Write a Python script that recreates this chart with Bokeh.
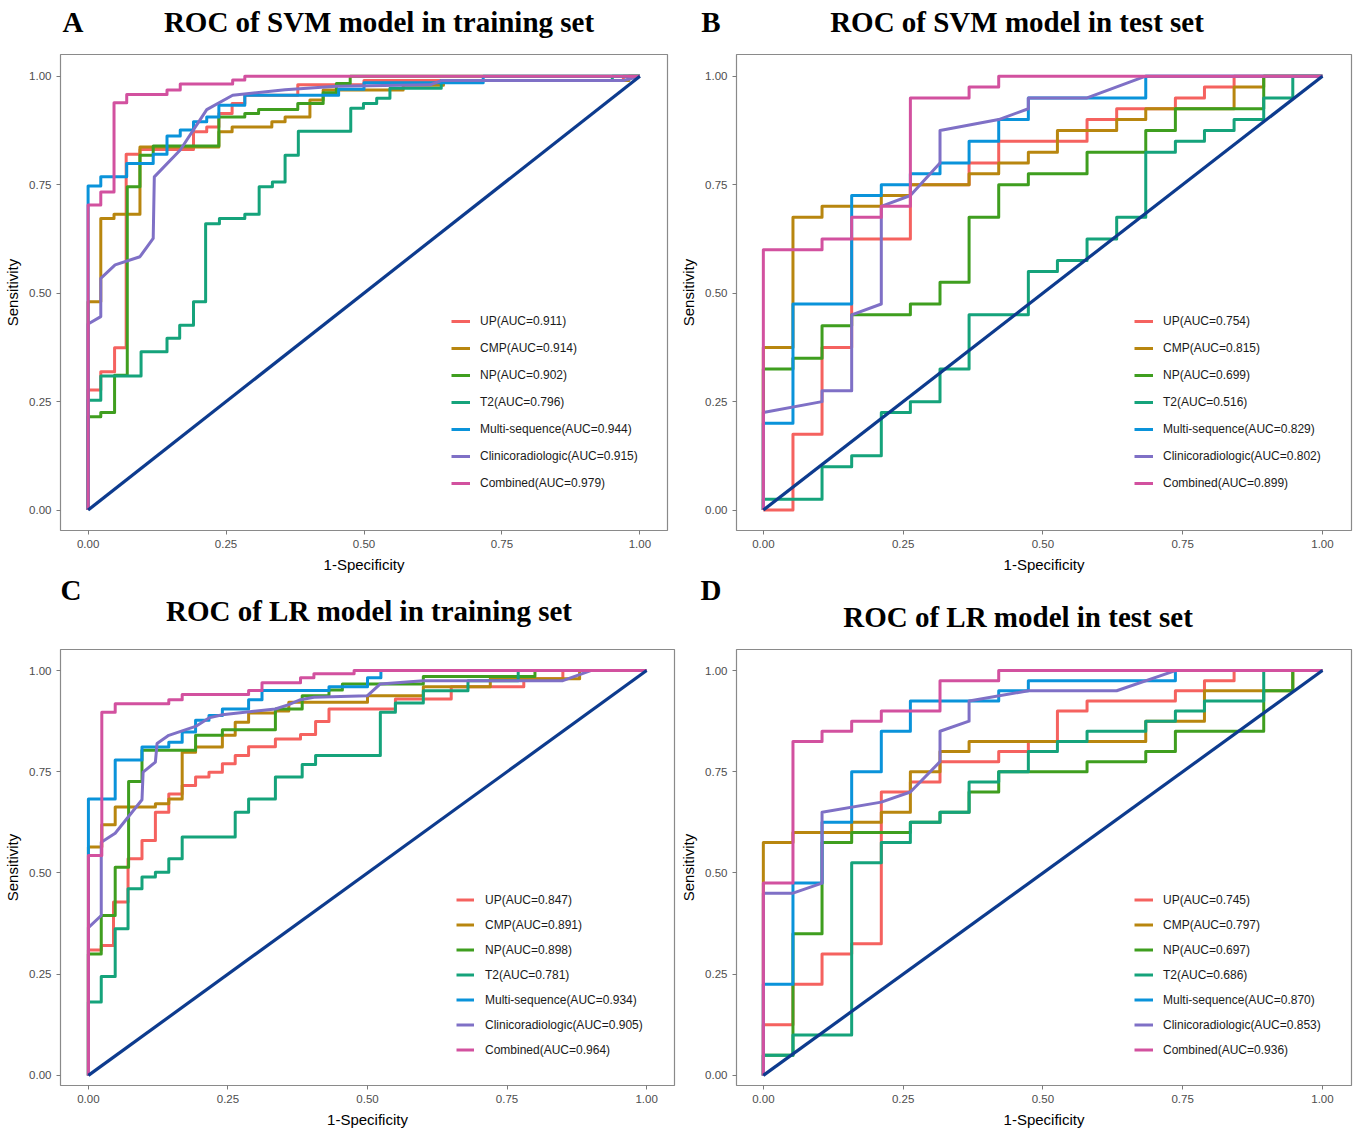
from bokeh.plotting import figure
from bokeh.models import Range1d, FixedTicker, PrintfTickFormatter, Legend, LegendItem, Div
from bokeh.layouts import column, row
from bokeh.embed import file_html
from bokeh.resources import INLINE

# ---------------- data ----------------
SERIES = ["UP", "CMP", "NP", "T2", "Multi-sequence", "Clinicoradiologic", "Combined"]
COLORS = ["#F5625F", "#B8860F", "#3F9E1F", "#15A37B", "#0A93DA", "#7F70C6", "#D2519F"]
DIAG_COLOR = "#0D3B8E"
TICKS = [0.0, 0.25, 0.5, 0.75, 1.0]

PANEL_LETTERS = ["A", "B", "C", "D"]
PANEL_TITLES = ["ROC of SVM model in training set", "ROC of SVM model in test set",
                "ROC of LR model in training set", "ROC of LR model in test set"]

AUC_A = [0.911, 0.914, 0.902, 0.796, 0.944, 0.915, 0.979]
AUC_B = [0.754, 0.815, 0.699, 0.516, 0.829, 0.802, 0.899]
AUC_C = [0.847, 0.891, 0.898, 0.781, 0.934, 0.905, 0.964]
AUC_D = [0.745, 0.797, 0.697, 0.686, 0.870, 0.853, 0.936]

# ROC points (1-specificity, sensitivity)
A_UP = [(0,0),(0,0.277),(0.023,0.277),(0.023,0.319),(0.048,0.319),(0.048,0.374),(0.069,0.374),(0.069,0.82),
        (0.094,0.82),(0.094,0.831),(0.191,0.831),(0.191,0.872),(0.215,0.872),(0.215,0.883),(0.237,0.883),
        (0.237,0.914),(0.261,0.914),(0.261,0.937),(0.284,0.937),(0.284,0.956),(0.38,0.956),(0.38,0.98),
        (0.50,0.98),(0.50,0.99),(0.97,0.99),(0.97,1.0),(1,1)]
A_CMP = [(0,0),(0,0.48),(0.023,0.48),(0.023,0.672),(0.047,0.672),(0.047,0.682),(0.094,0.682),(0.094,0.837),
         (0.237,0.837),(0.237,0.872),(0.261,0.872),(0.261,0.883),(0.333,0.883),(0.333,0.895),(0.357,0.895),
         (0.357,0.906),(0.402,0.906),(0.402,0.945),(0.426,0.945),(0.426,0.968),(0.571,0.968),(0.571,0.979),
         (0.644,0.979),(0.644,0.99),(0.98,0.99),(0.98,1.0),(1,1)]
A_NP = [(0,0),(0,0.215),(0.023,0.215),(0.023,0.225),(0.048,0.225),(0.048,0.311),(0.071,0.311),(0.071,0.745),
        (0.094,0.745),(0.094,0.818),(0.118,0.818),(0.118,0.839),(0.237,0.839),(0.237,0.906),(0.284,0.906),
        (0.284,0.914),(0.309,0.914),(0.309,0.923),(0.38,0.923),(0.38,0.937),(0.426,0.937),(0.426,0.962),
        (0.45,0.962),(0.45,0.983),(0.475,0.983),(0.475,1.0),(1,1)]
A_T2 = [(0,0),(0,0.253),(0.023,0.253),(0.023,0.309),(0.096,0.309),(0.096,0.365),(0.143,0.365),(0.143,0.396),
        (0.166,0.396),(0.166,0.426),(0.191,0.426),(0.191,0.48),(0.213,0.48),(0.213,0.66),(0.238,0.66),
        (0.238,0.672),(0.284,0.672),(0.284,0.682),(0.31,0.682),(0.31,0.745),(0.334,0.745),(0.334,0.756),
        (0.357,0.756),(0.357,0.818),(0.381,0.818),(0.381,0.873),(0.476,0.873),(0.476,0.926),(0.499,0.926),
        (0.499,0.937),(0.523,0.937),(0.523,0.949),(0.547,0.949),(0.547,0.972),(0.64,0.972),(0.64,0.99),
        (0.95,0.99),(0.95,1.0),(1,1)]
A_MULTI = [(0,0),(0,0.747),(0.023,0.747),(0.023,0.768),(0.07,0.768),(0.07,0.799),(0.118,0.799),(0.118,0.82),
           (0.143,0.82),(0.143,0.862),(0.167,0.862),(0.167,0.876),(0.191,0.876),(0.191,0.895),(0.215,0.895),
           (0.215,0.906),(0.237,0.906),(0.237,0.933),(0.284,0.933),(0.284,0.956),(0.454,0.956),(0.454,0.97),
           (0.50,0.97),(0.50,0.985),(0.716,0.985),(0.716,1.0),(1,1)]
A_CLIN = [(0,0),(0,0.429),(0.023,0.446),(0.023,0.534),(0.049,0.565),(0.094,0.584),(0.118,0.626),(0.12,0.768),
          (0.167,0.83),(0.215,0.923),(0.262,0.956),(0.357,0.969),(0.45,0.977),(0.62,0.98),(0.64,0.99),
          (0.97,0.99),(1,1)]
A_COMB = [(0,0),(0,0.703),(0.023,0.703),(0.023,0.733),(0.047,0.733),(0.047,0.939),(0.07,0.939),(0.07,0.958),
          (0.143,0.958),(0.143,0.968),(0.167,0.968),(0.167,0.982),(0.262,0.982),(0.262,0.991),(0.284,0.991),
          (0.284,1.0),(1,1)]

B_UP = [(0,0),(0.053,0),(0.053,0.175),(0.105,0.175),(0.105,0.375),(0.158,0.375),(0.158,0.625),(0.263,0.625),
        (0.263,0.75),(0.368,0.75),(0.368,0.80),(0.421,0.80),(0.421,0.85),(0.579,0.85),(0.579,0.90),(0.632,0.90),
        (0.632,0.925),(0.737,0.925),(0.737,0.95),(0.789,0.95),(0.789,0.975),(0.842,0.975),(0.842,1.0),(1,1)]
B_CMP = [(0,0),(0,0.375),(0.053,0.375),(0.053,0.675),(0.105,0.675),(0.105,0.70),(0.211,0.70),(0.211,0.725),
         (0.263,0.725),(0.263,0.75),(0.368,0.75),(0.368,0.775),(0.421,0.775),(0.421,0.80),(0.474,0.80),
         (0.474,0.825),(0.526,0.825),(0.526,0.875),(0.632,0.875),(0.632,0.90),(0.684,0.90),(0.684,0.925),
         (0.842,0.925),(0.842,0.975),(0.895,0.975),(0.895,1.0),(1,1)]
B_NP = [(0,0),(0,0.325),(0.053,0.325),(0.053,0.35),(0.105,0.35),(0.105,0.425),(0.158,0.425),(0.158,0.45),
        (0.263,0.45),(0.263,0.475),(0.316,0.475),(0.316,0.525),(0.368,0.525),(0.368,0.675),(0.421,0.675),
        (0.421,0.75),(0.474,0.75),(0.474,0.775),(0.579,0.775),(0.579,0.825),(0.684,0.825),(0.684,0.875),
        (0.737,0.875),(0.737,0.925),(0.895,0.925),(0.895,1.0),(1,1)]
B_T2 = [(0,0),(0,0.025),(0.105,0.025),(0.105,0.10),(0.158,0.10),(0.158,0.125),(0.211,0.125),(0.211,0.225),
        (0.263,0.225),(0.263,0.25),(0.316,0.25),(0.316,0.325),(0.368,0.325),(0.368,0.45),(0.474,0.45),
        (0.474,0.55),(0.526,0.55),(0.526,0.575),(0.579,0.575),(0.579,0.625),(0.632,0.625),(0.632,0.675),
        (0.684,0.675),(0.684,0.825),(0.737,0.825),(0.737,0.85),(0.789,0.85),(0.789,0.875),(0.842,0.875),
        (0.842,0.90),(0.895,0.90),(0.895,0.95),(0.947,0.95),(0.947,1.0),(1,1)]
B_MULTI = [(0,0),(0,0.20),(0.053,0.20),(0.053,0.475),(0.158,0.475),(0.158,0.725),(0.211,0.725),(0.211,0.75),
           (0.263,0.75),(0.263,0.775),(0.316,0.775),(0.316,0.80),(0.368,0.80),(0.368,0.85),(0.421,0.85),
           (0.421,0.90),(0.474,0.90),(0.474,0.95),(0.684,0.95),(0.684,1.0),(1,1)]
B_CLIN = [(0,0),(0,0.225),(0.105,0.25),(0.105,0.275),(0.158,0.275),(0.158,0.45),(0.211,0.475),(0.211,0.70),
          (0.263,0.725),(0.316,0.80),(0.316,0.875),(0.421,0.90),(0.474,0.925),(0.474,0.95),(0.579,0.95),
          (0.684,1.0),(1,1)]
B_COMB = [(0,0),(0,0.60),(0.105,0.60),(0.105,0.625),(0.158,0.625),(0.158,0.675),(0.211,0.675),(0.211,0.70),
          (0.263,0.70),(0.263,0.95),(0.368,0.95),(0.368,0.975),(0.421,0.975),(0.421,1.0),(1,1)]

C_UP = [(0,0),(0,0.31),(0.023,0.31),(0.023,0.321),(0.045,0.321),(0.045,0.428),(0.071,0.428),(0.071,0.535),
        (0.096,0.535),(0.096,0.58),(0.12,0.58),(0.12,0.65),(0.144,0.65),(0.144,0.695),(0.168,0.695),
        (0.168,0.716),(0.192,0.716),(0.192,0.737),(0.216,0.737),(0.216,0.749),(0.24,0.749),(0.24,0.77),
        (0.263,0.77),(0.263,0.79),(0.287,0.79),(0.287,0.812),(0.335,0.812),(0.335,0.831),(0.38,0.831),
        (0.38,0.842),(0.407,0.842),(0.407,0.874),(0.431,0.874),(0.431,0.905),(0.55,0.905),(0.55,0.93),
        (0.65,0.93),(0.65,0.96),(0.78,0.96),(0.78,0.98),(0.85,0.98),(0.85,1.0),(1,1)]
C_CMP = [(0,0),(0,0.564),(0.024,0.564),(0.024,0.619),(0.048,0.619),(0.048,0.663),(0.12,0.663),(0.12,0.671),
         (0.144,0.671),(0.144,0.683),(0.168,0.683),(0.168,0.798),(0.192,0.798),(0.192,0.811),(0.24,0.811),
         (0.24,0.84),(0.263,0.84),(0.263,0.872),(0.287,0.872),(0.287,0.895),(0.335,0.895),(0.335,0.90),
         (0.359,0.90),(0.359,0.922),(0.50,0.922),(0.50,0.938),(0.60,0.938),(0.60,0.96),(0.72,0.96),
         (0.72,0.98),(0.88,0.98),(0.88,1.0),(1,1)]
C_NP = [(0,0),(0,0.30),(0.023,0.30),(0.023,0.395),(0.048,0.395),(0.048,0.514),(0.072,0.514),(0.072,0.726),
        (0.096,0.726),(0.096,0.803),(0.192,0.803),(0.192,0.84),(0.24,0.84),(0.24,0.854),(0.335,0.854),
        (0.335,0.905),(0.383,0.905),(0.383,0.938),(0.431,0.938),(0.431,0.952),(0.455,0.952),(0.455,0.967),
        (0.60,0.967),(0.60,0.985),(0.80,0.985),(0.80,1.0),(1,1)]
C_T2 = [(0,0),(0,0.181),(0.023,0.181),(0.023,0.244),(0.048,0.244),(0.048,0.362),(0.071,0.362),(0.071,0.461),
        (0.096,0.461),(0.096,0.49),(0.12,0.49),(0.12,0.502),(0.144,0.502),(0.144,0.535),(0.168,0.535),
        (0.168,0.589),(0.263,0.589),(0.263,0.65),(0.287,0.65),(0.287,0.683),(0.335,0.683),(0.335,0.737),
        (0.383,0.737),(0.383,0.768),(0.407,0.768),(0.407,0.79),(0.523,0.79),(0.523,0.897),(0.55,0.897),
        (0.55,0.92),(0.60,0.92),(0.60,0.95),(0.68,0.95),(0.68,0.975),(0.77,0.975),(0.77,1.0),(1,1)]
C_MULTI = [(0,0),(0,0.683),(0.048,0.683),(0.048,0.779),(0.096,0.779),(0.096,0.811),(0.144,0.811),(0.144,0.823),
           (0.168,0.823),(0.168,0.848),(0.192,0.848),(0.192,0.877),(0.216,0.877),(0.216,0.889),(0.24,0.889),
           (0.24,0.905),(0.287,0.905),(0.287,0.928),(0.311,0.928),(0.311,0.951),(0.431,0.951),(0.431,0.96),
           (0.50,0.96),(0.50,0.982),(0.524,0.982),(0.524,1.0),(1,1)]
C_CLIN = [(0,0),(0,0.365),(0.023,0.395),(0.023,0.576),(0.048,0.598),(0.096,0.681),(0.098,0.749),(0.12,0.774),
          (0.123,0.82),(0.144,0.84),(0.192,0.862),(0.216,0.883),(0.24,0.891),(0.335,0.905),(0.359,0.916),
          (0.38,0.928),(0.404,0.934),(0.50,0.938),(0.523,0.967),(0.60,0.975),(0.85,0.975),(0.90,1.0),(1,1)]
C_COMB = [(0,0),(0,0.543),(0.024,0.543),(0.024,0.897),(0.048,0.897),(0.048,0.918),(0.144,0.918),(0.144,0.928),
          (0.168,0.928),(0.168,0.941),(0.287,0.941),(0.287,0.951),(0.311,0.951),(0.311,0.97),(0.38,0.97),
          (0.38,0.982),(0.404,0.982),(0.404,0.992),(0.476,0.992),(0.476,1.0),(1,1)]

D_UP = [(0,0),(0,0.125),(0.053,0.125),(0.053,0.225),(0.105,0.225),(0.105,0.30),(0.158,0.30),(0.158,0.325),
        (0.211,0.325),(0.211,0.70),(0.263,0.70),(0.263,0.725),(0.316,0.725),(0.316,0.775),(0.421,0.775),
        (0.421,0.80),(0.474,0.80),(0.474,0.825),(0.526,0.825),(0.526,0.90),(0.579,0.90),(0.579,0.925),
        (0.737,0.925),(0.737,0.95),(0.789,0.95),(0.789,0.975),(0.842,0.975),(0.842,1.0),(1,1)]
D_CMP = [(0,0),(0,0.575),(0.053,0.575),(0.053,0.60),(0.158,0.60),(0.158,0.625),(0.211,0.625),(0.211,0.65),
         (0.263,0.65),(0.263,0.75),(0.316,0.75),(0.316,0.80),(0.368,0.80),(0.368,0.825),(0.684,0.825),
         (0.684,0.875),(0.789,0.875),(0.789,0.95),(0.947,0.95),(0.947,1.0),(1,1)]
D_NP = [(0,0),(0,0.05),(0.053,0.05),(0.053,0.35),(0.105,0.35),(0.105,0.575),(0.158,0.575),(0.158,0.60),
        (0.263,0.60),(0.263,0.625),(0.316,0.625),(0.316,0.65),(0.368,0.65),(0.368,0.70),(0.421,0.70),
        (0.421,0.75),(0.579,0.75),(0.579,0.775),(0.684,0.775),(0.684,0.80),(0.737,0.80),(0.737,0.85),
        (0.895,0.85),(0.895,0.95),(0.947,0.95),(0.947,1.0),(1,1)]
D_T2 = [(0,0),(0,0.05),(0.053,0.05),(0.053,0.10),(0.158,0.10),(0.158,0.525),(0.211,0.525),(0.211,0.575),
        (0.263,0.575),(0.263,0.625),(0.316,0.625),(0.316,0.65),(0.368,0.65),(0.368,0.725),(0.421,0.725),
        (0.421,0.75),(0.474,0.75),(0.474,0.80),(0.526,0.80),(0.526,0.825),(0.579,0.825),(0.579,0.85),
        (0.684,0.85),(0.684,0.875),(0.737,0.875),(0.737,0.90),(0.789,0.90),(0.789,0.925),(0.895,0.925),
        (0.895,1.0),(1,1)]
D_MULTI = [(0,0),(0,0.225),(0.053,0.225),(0.053,0.475),(0.105,0.475),(0.105,0.625),(0.158,0.625),(0.158,0.75),
           (0.211,0.75),(0.211,0.85),(0.263,0.85),(0.263,0.925),(0.421,0.925),(0.421,0.95),(0.474,0.95),
           (0.474,0.975),(0.737,0.975),(0.737,1.0),(1,1)]
D_CLIN = [(0,0),(0,0.45),(0.053,0.45),(0.105,0.475),(0.105,0.65),(0.211,0.675),(0.263,0.70),(0.316,0.775),
          (0.316,0.85),(0.368,0.875),(0.368,0.925),(0.474,0.95),(0.632,0.95),(0.737,1.0),(1,1)]
D_COMB = [(0,0),(0,0.475),(0.053,0.475),(0.053,0.825),(0.105,0.825),(0.105,0.85),(0.158,0.85),(0.158,0.875),
          (0.211,0.875),(0.211,0.90),(0.316,0.90),(0.316,0.975),(0.421,0.975),(0.421,1.0),(1,1)]

CURVES_A = [A_UP, A_CMP, A_NP, A_T2, A_MULTI, A_CLIN, A_COMB]
CURVES_B = [B_UP, B_CMP, B_NP, B_T2, B_MULTI, B_CLIN, B_COMB]
CURVES_C = [C_UP, C_CMP, C_NP, C_T2, C_MULTI, C_CLIN, C_COMB]
CURVES_D = [D_UP, D_CMP, D_NP, D_T2, D_MULTI, D_CLIN, D_COMB]


def make_header(width, height, texts):
    spans = []
    for txt, (cx, cy) in texts:
        spans.append(
            '<span style="position:absolute;left:%dpx;top:%dpx;transform:translate(-50%%,-50%%);'
            'white-space:nowrap;line-height:29px;">%s</span>' % (cx, cy, txt))
    html = ('<div style="position:relative;width:%dpx;height:%dpx;overflow:visible;'
            'font-family:\'Liberation Serif\',serif;font-weight:bold;font-size:29px;color:#000;">%s</div>'
            % (width, height, "".join(spans)))
    return Div(text=html, width=width, height=height, margin=0)


def make_panel(curves, aucs, width, height, borders, xr, yr, legend_xy, item_h, item_sp,
               glyph_w, label_sd):
    bl, br, bt, bb = borders
    p = figure(width=width, height=height, x_range=Range1d(*xr), y_range=Range1d(*yr),
               output_backend="svg", toolbar_location=None, title=None,
               min_border_left=bl, min_border_right=br, min_border_top=bt, min_border_bottom=bb,
               x_axis_label="1-Specificity", y_axis_label="Sensitivity")
    p.xgrid.visible = False
    p.ygrid.visible = False
    p.outline_line_color = "#8a8a8a"
    p.outline_line_width = 1.2
    p.background_fill_color = "white"
    p.border_fill_color = "white"
    for ax in (p.xaxis[0], p.yaxis[0]):
        ax.ticker = FixedTicker(ticks=TICKS)
        ax.formatter = PrintfTickFormatter(format="%.2f")
        ax.axis_line_color = None
        ax.major_tick_line_color = "#7a7a7a"
        ax.major_tick_out = 4
        ax.major_tick_in = 0
        ax.minor_tick_line_color = None
        ax.major_label_text_font = "Liberation Sans"
        ax.major_label_text_font_size = "11.5px"
        ax.major_label_text_color = "#4d4d4d"
        ax.major_label_standoff = 5
        ax.axis_label_text_font = "Liberation Sans"
        ax.axis_label_text_font_size = "15px"
        ax.axis_label_text_font_style = "normal"
        ax.axis_label_text_color = "black"
        ax.axis_label_standoff = 5

    items = []
    for name, auc, pts, col in zip(SERIES, aucs, curves, COLORS):
        xs = [pt[0] for pt in pts]
        ys = [pt[1] for pt in pts]
        r = p.line(xs, ys, line_color=col, line_width=3, line_join="round")
        items.append(LegendItem(label="%s(AUC=%.3f)" % (name, auc), renderers=[r]))
    p.line([0, 1], [0, 1], line_color=DIAG_COLOR, line_width=3.2)

    legend = Legend(items=items, location=legend_xy, padding=0, margin=0,
                    border_line_color=None, background_fill_alpha=0,
                    label_text_font="Liberation Sans", label_text_font_size="12px",
                    label_text_color="#1a1a1a", glyph_width=glyph_w, glyph_height=item_h,
                    label_height=item_h, spacing=item_sp, label_standoff=label_sd)
    p.add_layout(legend)
    return p


# header strips: (text, (center x, center y)) in page pixels within each strip
head1 = make_header(1354, 44, [(PANEL_LETTERS[0], (73, 22)), (PANEL_TITLES[0], (379, 22)),
                               (PANEL_LETTERS[1], (711, 22)), (PANEL_TITLES[1], (1017, 22))])
head2 = make_header(1354, 64, [(PANEL_LETTERS[2], (71, 14)), (PANEL_TITLES[2], (369, 35)),
                               (PANEL_LETTERS[3], (711, 14)), (PANEL_TITLES[3], (1018, 41))])

pA = make_panel(CURVES_A, AUC_A, 677, 532, (60, 10, 10, 46), (-0.05, 1.05), (-0.047, 1.05),
                (391, 37), 20, 7, 19, 10)
pB = make_panel(CURVES_B, AUC_B, 677, 532, (56, 3, 10, 46), (-0.048, 1.052), (-0.047, 1.05),
                (398, 37), 20, 7, 19, 10)
pC = make_panel(CURVES_C, AUC_C, 677, 491, (60, 3, 9, 46), (-0.05, 1.05), (-0.025, 1.052),
                (396, 26), 19, 6, 18, 11)
pD = make_panel(CURVES_D, AUC_D, 677, 491, (56, 3, 9, 46), (-0.048, 1.052), (-0.025, 1.052),
                (398, 26), 19, 6, 19, 10)

layout = column(head1, row(pA, pB), head2, row(pC, pD))
open("out.html", "w").write(file_html(layout, INLINE))
